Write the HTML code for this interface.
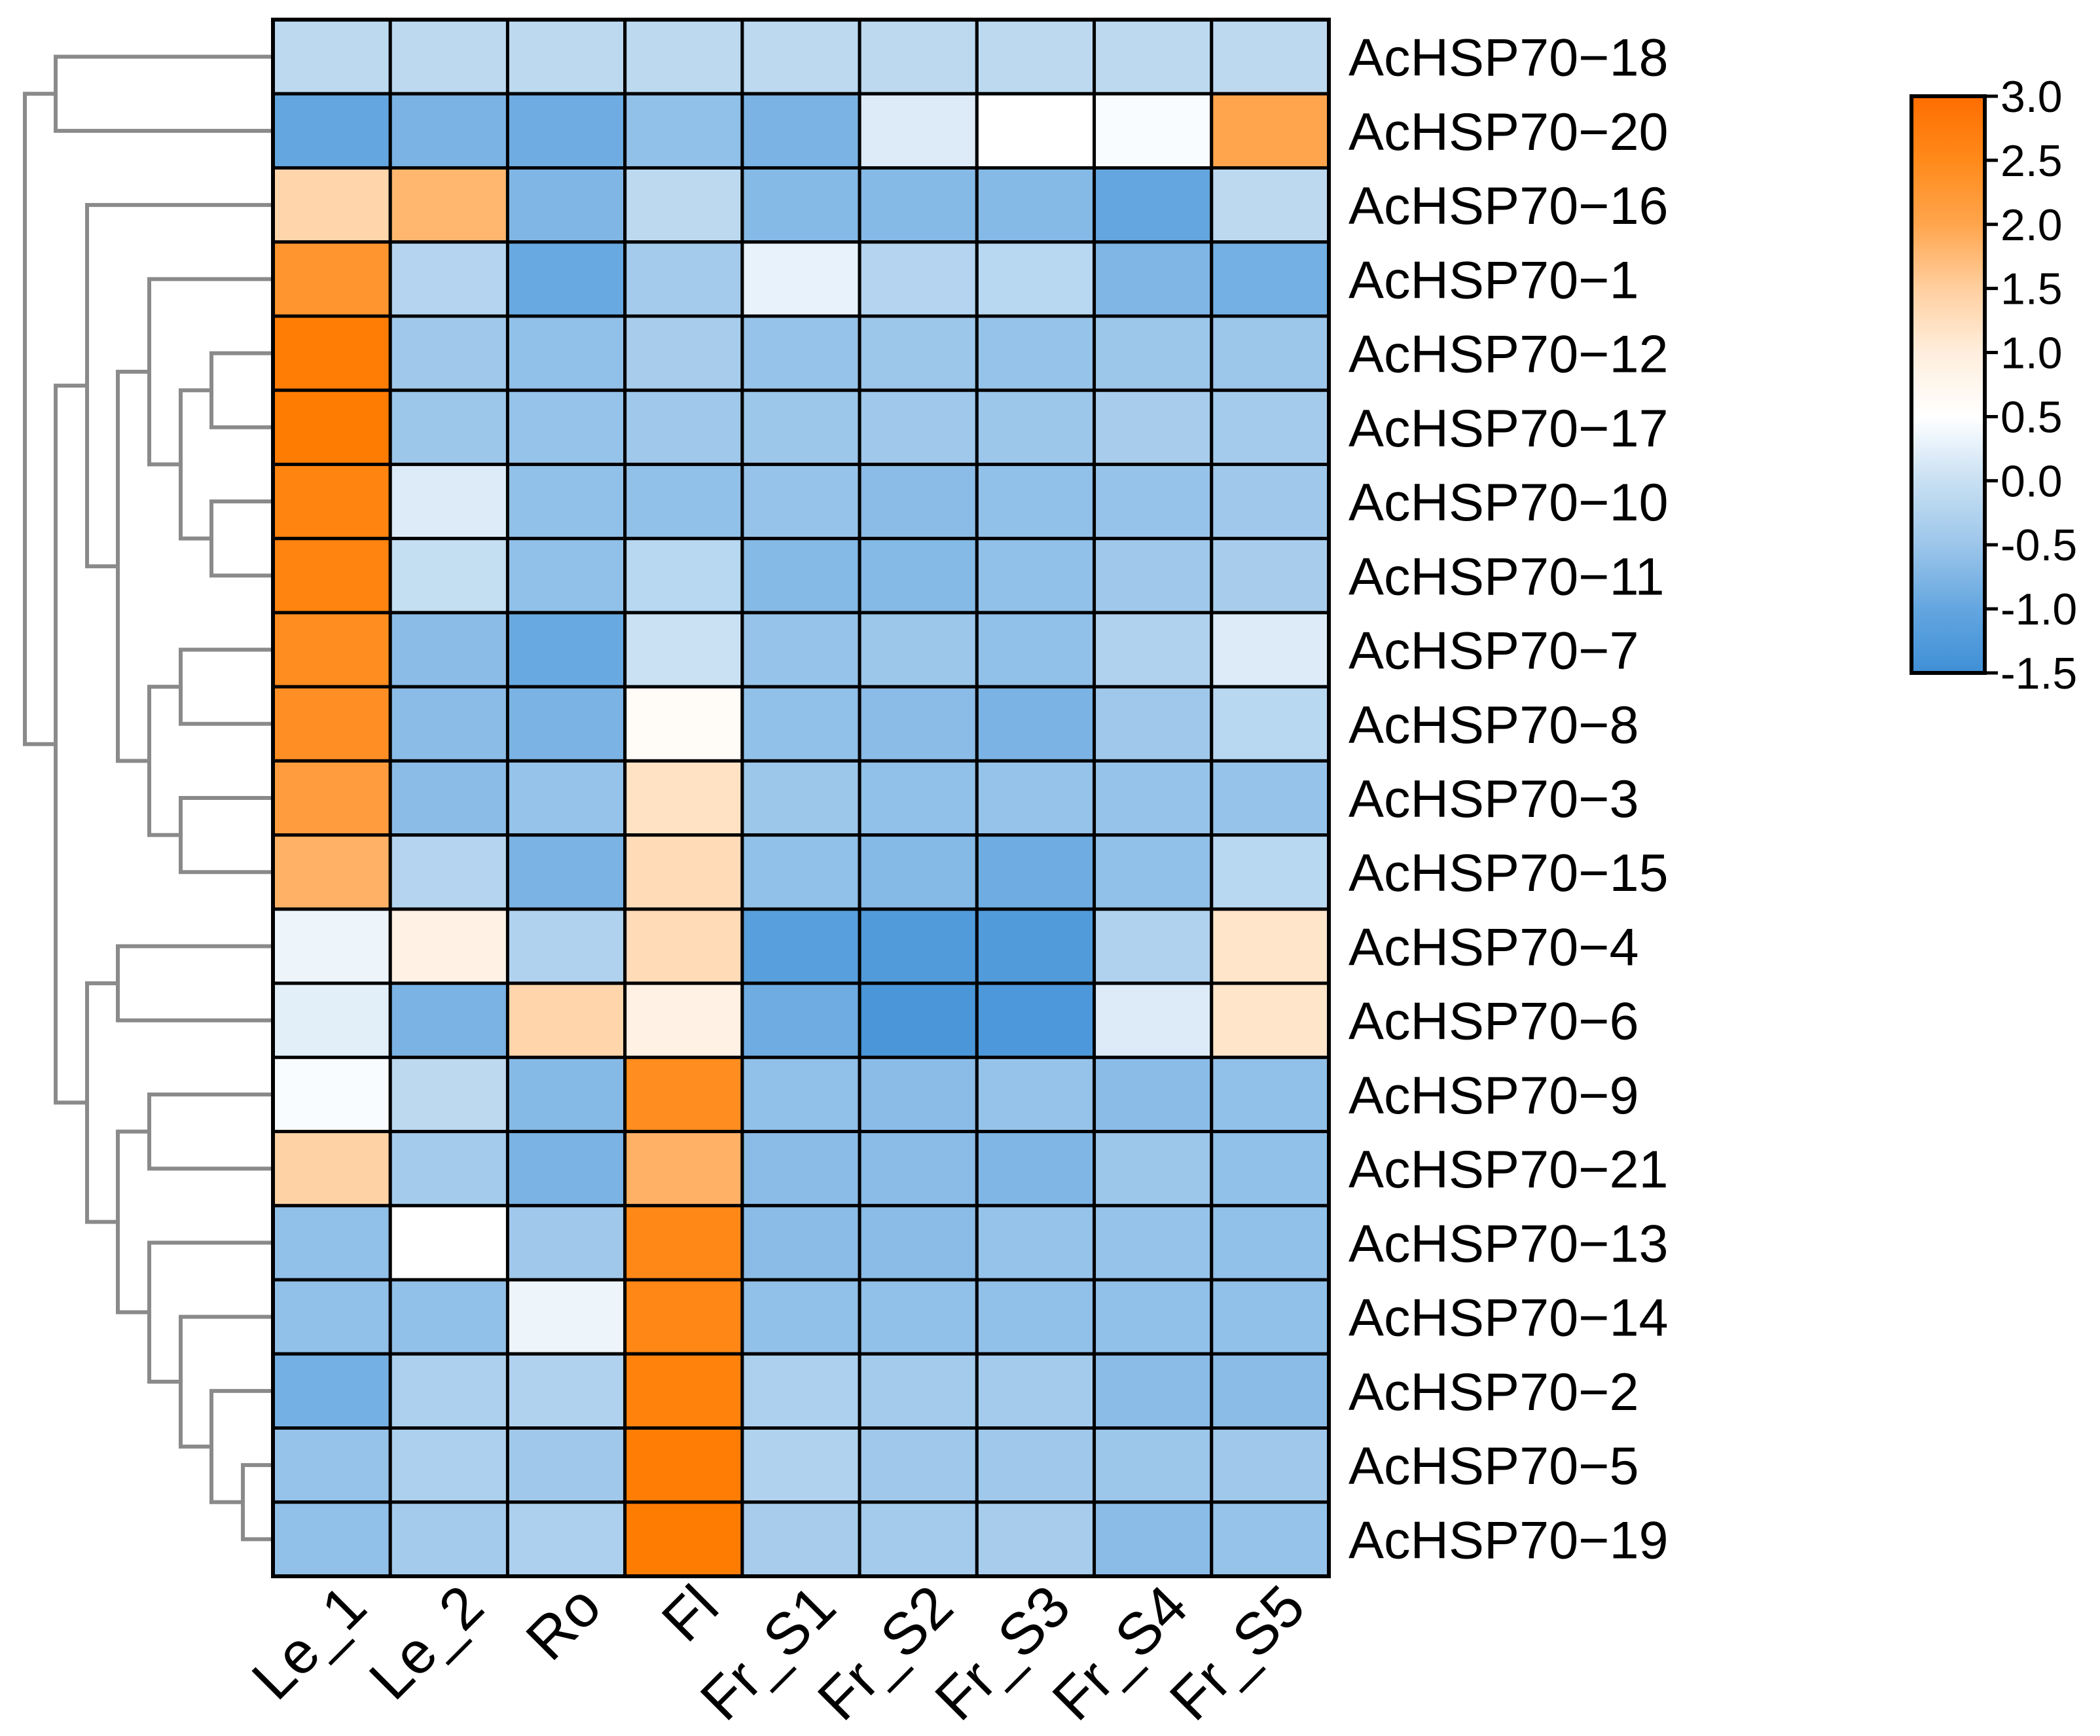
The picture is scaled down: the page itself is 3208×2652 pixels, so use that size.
<!DOCTYPE html>
<html><head><meta charset="utf-8"><style>
html,body{margin:0;padding:0;background:#fff;}
svg{display:block;}
text{font-family:"Liberation Sans",Arial,sans-serif;fill:#000;}
</style></head><body>
<svg id="chart" width="3208" height="2652" viewBox="0 0 3208 2652" xmlns="http://www.w3.org/2000/svg">
<defs>
<linearGradient id="cbgrad" x1="0" y1="1" x2="0" y2="0">
<stop offset="0" stop-color="#3f8fd6"/>
<stop offset="0.111" stop-color="#63a6e0"/>
<stop offset="0.222" stop-color="#9cc6ea"/>
<stop offset="0.333" stop-color="#c8e0f3"/>
<stop offset="0.444" stop-color="#ffffff"/>
<stop offset="0.556" stop-color="#ffeedd"/>
<stop offset="0.667" stop-color="#ffcf9f"/>
<stop offset="0.778" stop-color="#ffa54d"/>
<stop offset="0.889" stop-color="#ff8a1a"/>
<stop offset="1" stop-color="#ff6d00"/>
</linearGradient>
</defs>
<g id="dendro"></g>
<g id="cells"></g>
<g id="rowlabels"></g>
<g id="collabels"></g>
<g id="colorbar">
<rect x="2920" y="147" width="112" height="881" fill="url(#cbgrad)" stroke="#000" stroke-width="6"/>
</g>
</svg>
<script>
const columns = ["Le_1","Le_2","Ro","Fl","Fr_S1","Fr_S2","Fr_S3","Fr_S4","Fr_S5"];
const genes = ["AcHSP70\u221218","AcHSP70\u221220","AcHSP70\u221216","AcHSP70\u22121","AcHSP70\u221212","AcHSP70\u221217","AcHSP70\u221210","AcHSP70\u221211","AcHSP70\u22127","AcHSP70\u22128","AcHSP70\u22123","AcHSP70\u221215","AcHSP70\u22124","AcHSP70\u22126","AcHSP70\u22129","AcHSP70\u221221","AcHSP70\u221213","AcHSP70\u221214","AcHSP70\u22122","AcHSP70\u22125","AcHSP70\u221219"];
const values = [
[-0.1,-0.1,-0.1,-0.1,-0.1,-0.1,-0.1,-0.1,-0.1],
[-1.0,-0.8,-0.9,-0.6,-0.8,0.2,0.5,0.45,2.0],
[1.4,1.8,-0.75,-0.1,-0.7,-0.7,-0.7,-1.0,-0.1],
[2.3,-0.2,-0.95,-0.4,0.3,-0.2,-0.15,-0.75,-0.85],
[2.9,-0.45,-0.6,-0.35,-0.55,-0.5,-0.55,-0.5,-0.5],
[2.95,-0.5,-0.55,-0.45,-0.5,-0.45,-0.5,-0.35,-0.4],
[2.7,0.2,-0.6,-0.6,-0.55,-0.65,-0.6,-0.55,-0.45],
[2.7,0.0,-0.6,-0.15,-0.7,-0.7,-0.6,-0.45,-0.35],
[2.45,-0.65,-0.95,0.05,-0.55,-0.5,-0.6,-0.25,0.2],
[2.4,-0.65,-0.8,0.6,-0.6,-0.65,-0.8,-0.45,-0.15],
[2.15,-0.65,-0.55,1.2,-0.5,-0.6,-0.55,-0.55,-0.55],
[1.85,-0.2,-0.8,1.3,-0.6,-0.7,-0.9,-0.6,-0.15],
[0.35,0.9,-0.25,1.3,-1.15,-1.25,-1.25,-0.25,1.15],
[0.25,-0.8,1.4,0.9,-0.9,-1.35,-1.3,0.2,1.15],
[0.45,-0.1,-0.7,2.45,-0.6,-0.65,-0.55,-0.65,-0.6],
[1.45,-0.4,-0.8,1.85,-0.65,-0.65,-0.75,-0.5,-0.6],
[-0.6,0.5,-0.45,2.55,-0.65,-0.65,-0.55,-0.55,-0.6],
[-0.6,-0.6,0.35,2.6,-0.6,-0.6,-0.6,-0.6,-0.6],
[-0.85,-0.3,-0.25,2.75,-0.3,-0.4,-0.4,-0.65,-0.65],
[-0.55,-0.3,-0.45,2.9,-0.25,-0.45,-0.45,-0.5,-0.45],
[-0.6,-0.4,-0.3,2.95,-0.35,-0.4,-0.35,-0.65,-0.55]
];
const colorTicks = ["3.0","2.5","2.0","1.5","1.0","0.5","0.0","-0.5","-1.0","-1.5"];
const tickValues = [3.0,2.5,2.0,1.5,1.0,0.5,0.0,-0.5,-1.0,-1.5];
// dendrogram: [level, childA, childB]; leaf = row index
const tree = [0,[1,0,1],[1,[2,2,[3,[4,3,[5,[6,4,5],[6,6,7]]],[4,[5,8,9],[5,10,11]]]],[2,[3,12,13],[3,[4,14,15],[4,16,[5,17,[6,18,[7,19,20]]]]]]]];

const NS="http://www.w3.org/2000/svg";
const L=417,R=2030,T=30,B=2408;
const cw=(R-L)/columns.length, rh=(B-T)/genes.length;
const xCol=i=>L+i*cw, yRow=i=>T+i*rh;
const vmin=-1.5,vmax=3.0;
const stops=[[-1.5,[63,143,214]],[-1.0,[99,166,224]],[-0.5,[156,198,234]],[0,[196,222,242]],[0.5,[255,255,255]],[1.0,[255,238,221]],[1.5,[255,207,159]],[2.0,[255,165,77]],[2.5,[255,138,26]],[3.0,[255,122,0]]];
function color(v){v=Math.max(vmin,Math.min(vmax,v));
 for(let i=0;i<stops.length-1;i++){const a=stops[i],b=stops[i+1];
  if(v<=b[0]){const t=(v-a[0])/(b[0]-a[0]);return "rgb("+a[1].map((c,k)=>Math.round(c+(b[1][k]-c)*t)).join(",")+")";}}
 return "rgb(255,122,0)";}
function mk(tag,attrs,parent){const e=document.createElementNS(NS,tag);for(const k in attrs)e.setAttribute(k,attrs[k]);parent.appendChild(e);return e;}

const cells=document.getElementById('cells');
values.forEach((row,r)=>row.forEach((v,c)=>{
 const e=mk('rect',{x:xCol(c),y:yRow(r),width:cw,height:rh,fill:color(v),stroke:'#000','stroke-width':5},cells);
 
 
}));
mk('rect',{x:L,y:T,width:R-L,height:B-T,fill:'none',stroke:'#000','stroke-width':6},cells);

const rl=document.getElementById('rowlabels');
genes.forEach((g,i)=>{const t=mk('text',{x:2060,y:yRow(i)+rh/2+29,'font-size':81},rl);t.textContent=g;
 
 });

const cl=document.getElementById('collabels');
columns.forEach((c,i)=>{const x=xCol(i)+cw/2+58,y=B+52;
 const t=mk('text',{x:x,y:y,'font-size':90,'text-anchor':'end',transform:'rotate(-45 '+x+' '+y+')'},cl);t.textContent=c;
 
 });

const cb=document.getElementById('colorbar');
const cbTop=147,cbBot=1028;
const yCb=v=>cbBot-(v-vmin)/(vmax-vmin)*(cbBot-cbTop);
tickValues.forEach((v,i)=>{const y=yCb(v);
 const l=mk('line',{x1:3032,x2:3052,y1:y,y2:y,stroke:'#000','stroke-width':5},cb);
 
 
 const t=mk('text',{x:3056,y:y+24,'font-size':68},cb);t.textContent=colorTicks[i];
 
 });

const dg=document.getElementById('dendro');
const levelX=[38,85,133,180,228,276,323,371];
function draw(n){
 if(typeof n==='number') return {x:L,y:yRow(n)+rh/2};
 const a=draw(n[1]),b=draw(n[2]),x=levelX[n[0]];
 const st={stroke:'#8a8a8a','stroke-width':6,fill:'none'};
 const p=mk('path',Object.assign({d:'M'+a.x+' '+a.y+'H'+x+'V'+b.y+'H'+b.x},st),dg);
 
 
 return {x:x,y:(a.y+b.y)/2};
}
draw(tree);
</script>
</body></html>
